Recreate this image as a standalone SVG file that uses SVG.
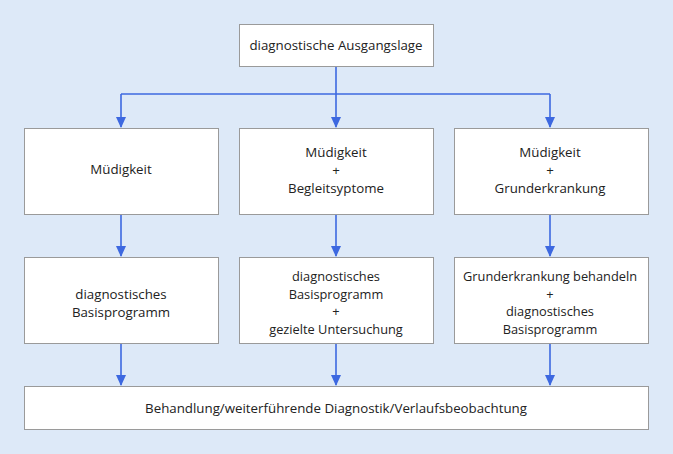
<svg xmlns="http://www.w3.org/2000/svg" width="673" height="454" viewBox="0 0 673 454">
<defs>
<style>
.box{fill:#fff;stroke:#9a9a9a;stroke-width:1}
.t{font-family:"Open Sans","Noto Sans",sans-serif;font-size:12.8px;fill:#222;text-anchor:middle}
.w{font-size:13.3px}
.c{fill:none;stroke:#3d68e0;stroke-width:1.6}
</style>
</defs>
<rect width="673" height="454" fill="#dde9f8"/>
<g id="connectors">
<path class="c" d="M336,66 V94"/>
<path class="c" d="M121,94 H550"/>
<path class="c" d="M121,94 V127"/>
<path class="c" d="M336,94 V127"/>
<path class="c" d="M550,94 V127"/>
<path class="c" d="M121,214 V256"/>
<path class="c" d="M336,214 V256"/>
<path class="c" d="M550,214 V256"/>
<path class="c" d="M121,343 V385"/>
<path class="c" d="M336,343 V385"/>
<path class="c" d="M550,343 V385"/>
<g fill="#3d68e0">
<path d="M116,117 L126,117 L121,128 Z"/>
<path d="M331,117 L341,117 L336,128 Z"/>
<path d="M545,117 L555,117 L550,128 Z"/>
<path d="M116,246 L126,246 L121,257 Z"/>
<path d="M331,246 L341,246 L336,257 Z"/>
<path d="M545,246 L555,246 L550,257 Z"/>
<path d="M116,375 L126,375 L121,386 Z"/>
<path d="M331,375 L341,375 L336,386 Z"/>
<path d="M545,375 L555,375 L550,386 Z"/>
</g>
</g>
<g id="start">
<rect class="box" x="239.5" y="24.5" width="194" height="42"/>
<text class="t w" x="336" y="50">diagnostische Ausgangslage</text>
</g>
<g id="n1">
<rect class="box" x="24.5" y="128.5" width="194" height="86"/>
<text class="t w" x="121" y="174">Müdigkeit</text>
</g>
<g id="n2">
<rect class="box" x="239.5" y="128.5" width="194" height="86"/>
<text class="t w" x="336" y="157">Müdigkeit</text>
<text class="t w" x="336" y="175">+</text>
<text class="t w" x="336" y="193">Begleitsyptome</text>
</g>
<g id="n3">
<rect class="box" x="454.5" y="128.5" width="194" height="86"/>
<text class="t w" x="550" y="157">Müdigkeit</text>
<text class="t w" x="550" y="175">+</text>
<text class="t w" x="550" y="193">Grunderkrankung</text>
</g>
<g id="n4">
<rect class="box" x="24.5" y="257.5" width="194" height="86"/>
<text class="t w" x="121" y="299">diagnostisches</text>
<text class="t w" x="121" y="317">Basisprogramm</text>
</g>
<g id="n5">
<rect class="box" x="239.5" y="257.5" width="194" height="86"/>
<text class="t" x="336" y="281">diagnostisches</text>
<text class="t" x="336" y="298.5">Basisprogramm</text>
<text class="t" x="336" y="316">+</text>
<text class="t" x="336" y="333.5">gezielte Untersuchung</text>
</g>
<g id="n6">
<rect class="box" x="454.5" y="257.5" width="194" height="86"/>
<text class="t" x="550" y="281">Grunderkrankung behandeln</text>
<text class="t" x="550" y="298.5">+</text>
<text class="t" x="550" y="316">diagnostisches</text>
<text class="t" x="550" y="333.5">Basisprogramm</text>
</g>
<g id="n7">
<rect class="box" x="24.5" y="386.5" width="624" height="43"/>
<text class="t w" x="336" y="413">Behandlung/weiterführende Diagnostik/Verlaufsbeobachtung</text>
</g>
</svg>
